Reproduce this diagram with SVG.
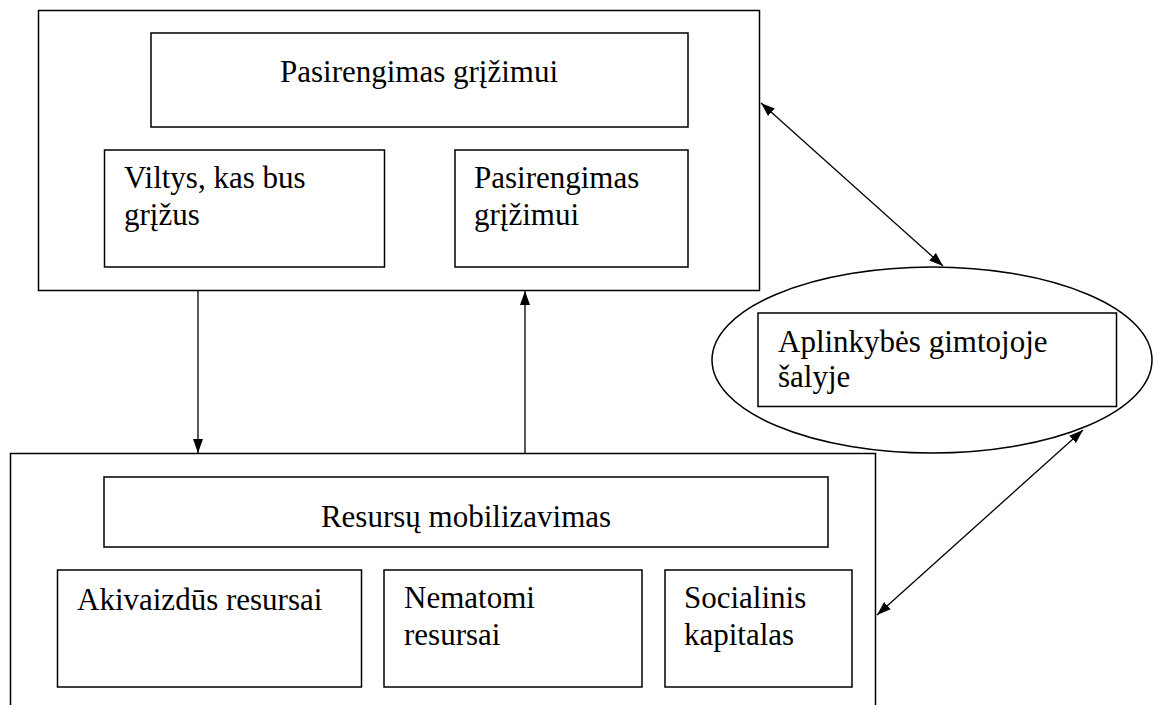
<svg xmlns="http://www.w3.org/2000/svg" width="1154" height="705" viewBox="0 0 1154 705">
<style>
.box{fill:#fff;stroke:#000;stroke-width:1.5}
.ell{fill:#fff;stroke:#000;stroke-width:1.5}
text{font-family:'Liberation Serif','Times New Roman','DejaVu Serif',serif;font-size:31px;fill:#000}
.c{stroke:#000;stroke-width:1.3;fill:none}
</style>
<defs>
<marker id="ah" viewBox="0 0 14 10" refX="14" refY="5" markerWidth="14" markerHeight="10" markerUnits="userSpaceOnUse" orient="auto-start-reverse">
<path d="M0,0 L14,5 L0,10 Z" fill="#000"/>
</marker>
</defs>
<g id="top-group">
<rect class="box" x="38.5" y="10.5" width="721" height="280"/>
</g>
<g id="node-pasirengimas-top">
<rect class="box" x="151" y="33" width="537" height="94"/>
<text x="419" y="82" text-anchor="middle">Pasirengimas grįžimui</text>
</g>
<g id="node-viltys">
<rect class="box" x="104.5" y="150" width="280" height="117"/>
<text x="124" y="188">Viltys, kas bus</text>
<text x="124" y="225">grįžus</text>
</g>
<g id="node-pasirengimas">
<rect class="box" x="455" y="150" width="233" height="117"/>
<text x="474" y="188">Pasirengimas</text>
<text x="474" y="225">grįžimui</text>
</g>
<g id="node-aplinkybes">
<ellipse class="ell" cx="932" cy="360" rx="220" ry="93"/>
<rect class="box" x="758" y="313" width="358.5" height="93.5"/>
<text x="778" y="352">Aplinkybės gimtojoje</text>
<text x="778" y="387">šalyje</text>
</g>
<g id="bottom-group">
<path class="box" d="M10.5,706 V453.5 H875.5 V706"/>
</g>
<g id="node-resursu">
<rect class="box" x="104" y="477" width="724" height="70"/>
<text x="466" y="527" text-anchor="middle">Resursų mobilizavimas</text>
</g>
<g id="node-akivaizdus">
<rect class="box" x="57.5" y="570" width="304" height="117"/>
<text x="77" y="610">Akivaizdūs resursai</text>
</g>
<g id="node-nematomi">
<rect class="box" x="384" y="570" width="258" height="117"/>
<text x="404" y="608">Nematomi</text>
<text x="404" y="645">resursai</text>
</g>
<g id="node-socialinis">
<rect class="box" x="665" y="570" width="187" height="117"/>
<text x="684" y="608">Socialinis</text>
<text x="684" y="645">kapitalas</text>
</g>
<g id="connectors">
<line class="c" x1="198" y1="291" x2="198" y2="453" marker-end="url(#ah)"/>
<line class="c" x1="525" y1="453" x2="525" y2="291" marker-end="url(#ah)"/>
<line class="c" x1="761" y1="103" x2="943" y2="266" marker-start="url(#ah)" marker-end="url(#ah)"/>
<line class="c" x1="1083" y1="430" x2="877" y2="615" marker-start="url(#ah)" marker-end="url(#ah)"/>
</g>
</svg>
